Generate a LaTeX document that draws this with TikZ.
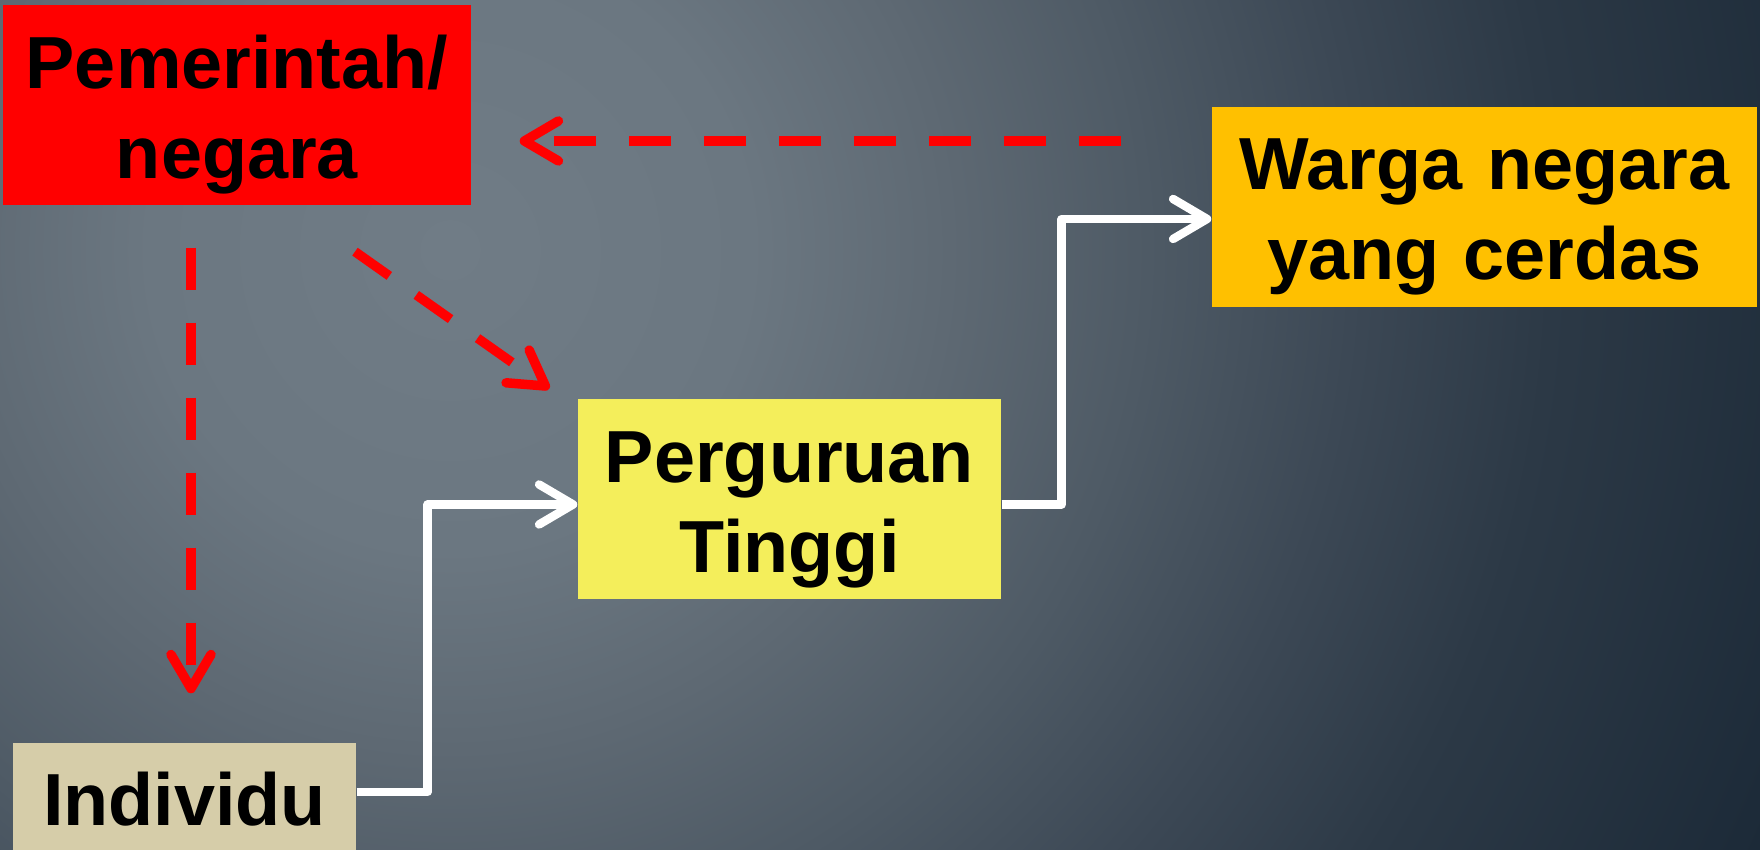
\documentclass[tikz,border=0pt]{standalone}
\usepackage{fontspec}
\setmainfont{Liberation Sans}
\usetikzlibrary{arrows.meta}
\definecolor{govred}{HTML}{FF0000}
\definecolor{wargaorange}{HTML}{FFC000}
\definecolor{ptyellow}{HTML}{F4EE5B}
\definecolor{indbeige}{HTML}{D6CDA9}
\definecolor{bgA}{HTML}{707C86}
\definecolor{bgB}{HTML}{6B7781}
\definecolor{bgC}{HTML}{5E6973}
\definecolor{bgD}{HTML}{4E5A65}
\definecolor{bgE}{HTML}{3C4855}
\definecolor{bgF}{HTML}{2C3946}
\definecolor{bgG}{HTML}{1C2A38}
\pgfdeclareradialshading{bgglow}{\pgfpoint{0bp}{0bp}}{color(0bp)=(bgA); color(4.7bp)=(bgB); color(7.8bp)=(bgC); color(10.9bp)=(bgD); color(14.1bp)=(bgE); color(17.2bp)=(bgF); color(22.5bp)=(bgG); color(50bp)=(bgG)}
\begin{document}
\begin{tikzpicture}[
    box/.style={inner sep=0pt, align=center, text height=8.3mm, text depth=11.7mm, font=\fontsize{21}{25.6}\selectfont\bfseries},
    redflow/.style={draw=govred, line width=2.7pt, dash pattern=on 4.2mm off 3.3mm, -{Straight Barb[length=3.4mm,width=4mm,round]}},
    whiteflow/.style={draw=white, line width=2.4pt, line join=round, -{Straight Barb[length=3.4mm,width=4mm,round]}}
  ]
        \useasboundingbox (0,0) rectangle (17.6,8.5);
        \begin{scope}
            \clip (0,0) rectangle (17.6,8.5);
            \shade[shading=bgglow] (4.5,6.0) circle (16);
        \end{scope}
        % boxes
        \node[box, fill=govred, text width=4.68cm] (gov) at (2.37,7.445) {Pemerintah/\\negara};
        \node[box, fill=wargaorange, text width=5.45cm] (warga) at (14.845,6.43) {Warga negara\\yang cerdas};
        \node[box, fill=ptyellow, text width=4.23cm] (pt) at (7.895,3.505) {Perguruan\\Tinggi};
        \node[box, fill=indbeige, text width=3.43cm, text depth=2.9mm] (ind) at (1.845,0.51) {Individu};
        % red dashed arrows
        \coordinate (govin) at ([yshift=-3.55mm]gov.east);
        \coordinate (govout) at ([xshift=-4.6mm]gov.south);
        \draw[redflow, shorten <=9mm, shorten >=4.8mm] (govin -| warga.west) -- (govin);
        \draw[redflow, shorten <=4.15mm, shorten >=4.9mm] (govout) -- (govout |- ind.north);
        \draw[redflow] ([xshift=11.8mm,yshift=-4.55mm]gov.south) -- ([xshift=-2.8mm,yshift=1mm]pt.north west);
        % white arrows
        \draw[whiteflow] ([yshift=0.7mm]ind.east) -- ++(0.71,0) |- ([yshift=-0.5mm]pt.west);
        \draw[whiteflow] ([yshift=-0.5mm]pt.east) -- ++(0.6,0) |- ([yshift=-1.2mm]warga.west);
    \end{tikzpicture}
\end{document}
